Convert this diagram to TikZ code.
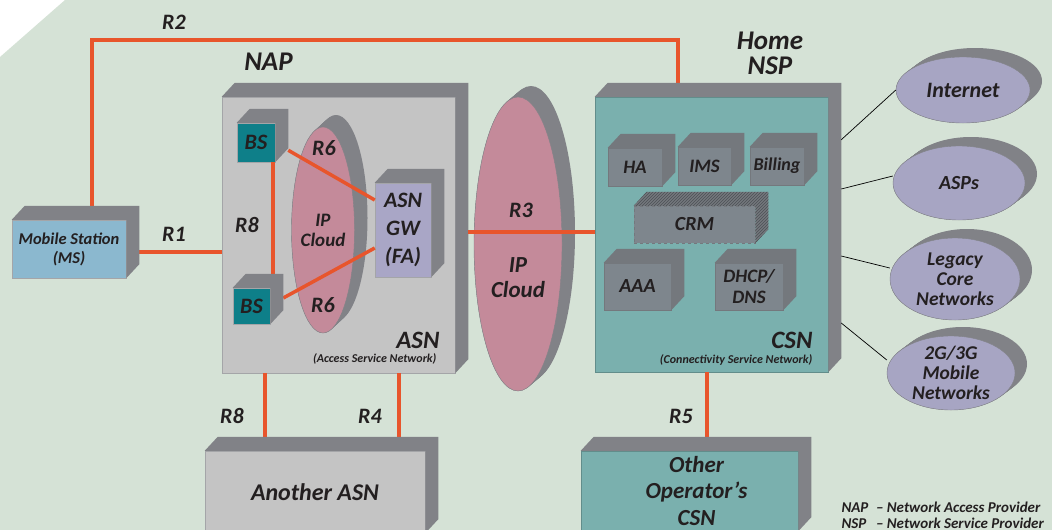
\documentclass[tikz,border=0pt]{standalone}
\usepackage{fontspec}
\setmainfont{Carlito}
\usetikzlibrary{positioning, shapes.geometric, patterns}
\definecolor{clrback}{HTML}{D5E2D6}
\definecolor{clrlink}{HTML}{E8552C}
\definecolor{clrdepth}{HTML}{818287}
\definecolor{clrframe}{HTML}{A4A5A8}
\definecolor{clrasn}{HTML}{C4C4C4}
\definecolor{clrms}{HTML}{8BB8CF}
\definecolor{clrbs}{HTML}{0E7F89}
\definecolor{clrgw}{HTML}{A9A6C6}
\definecolor{clrcloud}{HTML}{C48A9A}
\definecolor{clrcsn}{HTML}{7AB0AE}
\definecolor{clrinner}{HTML}{7E868D}
\definecolor{clrinnerdepth}{HTML}{74787D}
\definecolor{clrouter}{HTML}{A7A5C3}
\definecolor{clrtext}{HTML}{231F20}

\newcommand{\fsize}[2]{\fontsize{#1}{#2}\selectfont\bfseries\itshape}
% top and right face of a box node
\newcommand{\boxdepth}[2][clrdepth]{%
  \fill[#1] (#2.north west) -- ++(13pt,14pt) -- ([shift={(13pt,14pt)}]#2.north east)
    -- ([shift={(13pt,14pt)}]#2.south east) -- (#2.south east) -- (#2.north east) -- cycle;}
% extruded shadow behind an ellipse
\newcommand{\ellshadow}[5]{%
  \foreach \s in {0,1,...,12} \fill[clrdepth] ([shift={(#4*\s/12 pt, #5*\s/12 pt)}]#1) ellipse [x radius=#2, y radius=#3];}

\begin{document}
\begin{tikzpicture}[
    x=1pt, y=-1pt,
    every node/.style={text=clrtext},
    box/.style={draw=clrframe, line width=0.5pt, inner sep=0pt, align=center},
    inbox/.style={box, fill=clrinner, draw=clrinnerdepth, font=\fsize{19}{21}},
    link/.style={draw=clrlink, line width=3.5pt},
    wire/.style={draw=black, line width=0.7pt},
    rlabel/.style={font=\fsize{22}{22}},
    title/.style={font=\fsize{27}{25}, align=center},
    cloud/.style={ellipse, fill=clrcloud, draw=clrdepth, line width=0.4pt, inner sep=0pt},
    outer/.style={ellipse, fill=clrouter, draw=clrdepth, line width=0.4pt, inner sep=0pt},
]
\useasboundingbox (0,0) rectangle (1052,530);
\fill[white] (0,0) rectangle (1052,530);
\fill[clrback] (65,0) -- (1052,0) -- (1052,530) -- (0,530) -- (0,57) -- cycle;

\node[box, fill=clrms, minimum width=114pt, minimum height=58pt, font=\fsize{16.5}{19}] (n_ms) at (69,249) {Mobile Station\\(MS)};
\node[box, fill=clrasn, minimum width=233pt, minimum height=276pt] (n_asn) at (338.5,235) {};
\node[box, fill=clrcsn, draw=clrcsn!80!black, minimum width=233pt, minimum height=275pt] (n_csn) at (711.5,234.5) {};
\node[box, fill=clrasn, minimum width=220pt, minimum height=82pt, font=\fsize{24}{27}] (n_another) at (315,492) {Another ASN};
\node[box, fill=clrcsn, draw=clrcsn!80!black, minimum width=217pt, minimum height=80pt, font=\fsize{23}{26.5}] (n_other) at (689.5,491) {\hspace*{14pt}Other\\\hspace*{14pt}Operator’s\\\hspace*{14pt}CSN};

% R links between the big blocks
\draw[link] ([xshift=23pt,yshift=14pt]n_ms.north) |- ([xshift=-33.5pt,yshift=57pt]n_csn.north) -- ([xshift=-33.5pt,yshift=14pt]n_csn.north);
\draw[link] ([xshift=13pt,yshift=-3pt]n_ms.east) -- ([yshift=-3pt]n_ms.east -| n_asn.west);
\draw[link] ([xshift=-73.5pt]n_asn.south) -- ([xshift=-73.5pt,yshift=14pt]n_asn.south |- n_another.north);
\draw[link] ([xshift=60.5pt]n_asn.south) -- ([xshift=60.5pt,yshift=14pt]n_asn.south |- n_another.north);
\draw[link] ([xshift=-4.5pt]n_csn.south) -- ([xshift=-4.5pt,yshift=14pt]n_csn.south |- n_other.north);

\boxdepth{n_ms}
\boxdepth{n_asn}
\boxdepth{n_csn}
\boxdepth{n_another}
\boxdepth{n_other}

% inside the ASN
\coordinate (c_cloud_a) at (323,230);
\ellshadow{c_cloud_a}{31.5pt}{103pt}{13}{12}
\node[cloud, minimum width=63pt, minimum height=206pt,
      label={[font=\fsize{19}{20}, align=center]center:IP\\Cloud}] (n_cloud_a) at (c_cloud_a) {};
\node[box, fill=clrbs, minimum width=38pt, minimum height=39pt, font=\fsize{22}{22}] (n_bs_a) at (256,142.5) {BS};
\node[box, fill=clrbs, minimum width=37pt, minimum height=36pt, font=\fsize{22}{22}] (n_bs_b) at (251.5,306) {BS};
\node[box, fill=clrgw, minimum width=56pt, minimum height=94pt, font=\fsize{22}{28}] (n_gw) at (403,230) {ASN\\GW\\(FA)};
\draw[link] ([xshift=17pt]n_bs_a.south) -- ([xshift=17pt,yshift=12pt]n_bs_a.south |- n_bs_b.north);
\draw[link] ([shift={(13pt,12pt)}]n_bs_a.south east) -- ([yshift=30pt]n_gw.west);
\draw[link] ([shift={(13pt,8pt)}]n_bs_b.east) -- ([yshift=-18pt]n_gw.west);
\boxdepth{n_bs_a}
\boxdepth{n_bs_b}
\boxdepth{n_gw}

% core IP cloud
\coordinate (c_cloud_b) at (518,244);
\ellshadow{c_cloud_b}{44pt}{147pt}{13}{11}
\node[cloud, minimum width=88pt, minimum height=294pt,
      label={[font=\fsize{23}{25}, align=center, yshift=-34pt]center:IP\\Cloud}] (n_cloud_b) at (c_cloud_b) {};
\draw[link] ([xshift=13pt,yshift=3pt]n_asn.east) -- ([yshift=3pt]n_asn.east -| n_csn.west);

% inside the CSN
\node[inbox, minimum width=54pt, minimum height=38pt] (n_ha) at (635,167) {HA};
\node[inbox, minimum width=53pt, minimum height=38pt] (n_ims) at (704.5,166) {IMS};
\node[inbox, minimum width=54pt, minimum height=38pt, font=\fsize{18}{20}] (n_billing) at (777,166) {Billing};
\node[inbox, dashed, minimum width=121pt, minimum height=37pt, font=\fsize{20}{20}] (n_crm) at (694.5,224.5) {CRM};
\node[inbox, minimum width=67pt, minimum height=47pt, font=\fsize{20}{20}] (n_aaa) at (637.5,286.5) {AAA};
\node[inbox, minimum width=68pt, minimum height=47pt, font=\fsize{19}{21}] (n_dhcp) at (749,286.5) {DHCP/\\DNS};
\boxdepth[clrinnerdepth]{n_ha}
\boxdepth[clrinnerdepth]{n_ims}
\boxdepth[clrinnerdepth]{n_billing}
\boxdepth[clrinnerdepth, postaction={pattern=north east lines, pattern color=clrinner!60!black}]{n_crm}
\boxdepth[clrinnerdepth]{n_aaa}
\boxdepth[clrinnerdepth]{n_dhcp}

% outside networks
\coordinate (c_internet) at (963,90);
\coordinate (c_asps) at (959,183);
\coordinate (c_legacy) at (955,279);
\coordinate (c_mobile) at (951,373);
\ellshadow{c_internet}{67pt}{33pt}{12}{9}
\ellshadow{c_asps}{66pt}{37pt}{12}{9}
\ellshadow{c_legacy}{65pt}{41pt}{12}{9}
\ellshadow{c_mobile}{64pt}{37pt}{12}{9}
\node[outer, minimum width=134pt, minimum height=66pt, label={[font=\fsize{22}{22}]center:Internet}] (n_internet) at (c_internet) {};
\node[outer, minimum width=132pt, minimum height=74pt, label={[font=\fsize{20}{20}]center:ASPs}] (n_asps) at (c_asps) {};
\node[outer, minimum width=130pt, minimum height=82pt, label={[font=\fsize{19.5}{20}, align=center]center:Legacy\\Core\\Networks}] (n_legacy) at (c_legacy) {};
\node[outer, minimum width=128pt, minimum height=74pt, label={[font=\fsize{19.5}{20}, align=center]center:2G/3G\\Mobile\\Networks}] (n_mobile) at (c_mobile) {};
\draw[wire] ([xshift=13pt,yshift=-43pt]n_csn.north east) -- (n_internet.west);
\draw[wire] ([xshift=13pt,yshift=45.5pt]n_csn.east) -- ([yshift=7pt]n_asps.west);
\draw[wire] ([xshift=13pt,yshift=-21.5pt]n_csn.east) -- ([yshift=11pt]n_legacy.west);
\draw[wire] ([xshift=13pt,yshift=-88.5pt]n_csn.east) -- ([yshift=13pt]n_mobile.west);

% labels
\node[rlabel] (l_r2) at (174,22) {R2};
\node[rlabel] (l_r1) at (174,234) {R1};
\node[rlabel] (l_r8_a) at (247,225) {R8};
\node[rlabel] (l_r6_a) at (324,148) {R6};
\node[rlabel] (l_r6_b) at (323,305) {R6};
\node[rlabel] (l_r3) at (521,210) {R3};
\node[rlabel] (l_r8_b) at (232,416) {R8};
\node[rlabel] (l_r4) at (370,416) {R4};
\node[rlabel] (l_r5) at (681,416) {R5};
\node[title] (l_nap) at (268.5,62) {NAP};
\node[title] (l_nsp) at (770,53) {Home\\NSP};
\node[font=\fsize{25}{25}, anchor=east] (l_asn) at (443,340) {ASN};
\node[font=\fsize{12}{13}, anchor=east] (l_asn_sub) at (440,359) {(Access Service Network)};
\node[font=\fsize{25}{25}, anchor=east] (l_csn) at (816,340) {CSN};
\node[font=\fsize{12}{13}, anchor=east] (l_csn_sub) at (816,360) {(Connectivity Service Network)};
\node[font=\fsize{15}{16}, align=left, anchor=west] (l_legend) at (838,515) {\makebox[2.3em][l]{NAP}– Network Access Provider\\\makebox[2.3em][l]{NSP}– Network Service Provider};
\end{tikzpicture}
\end{document}
